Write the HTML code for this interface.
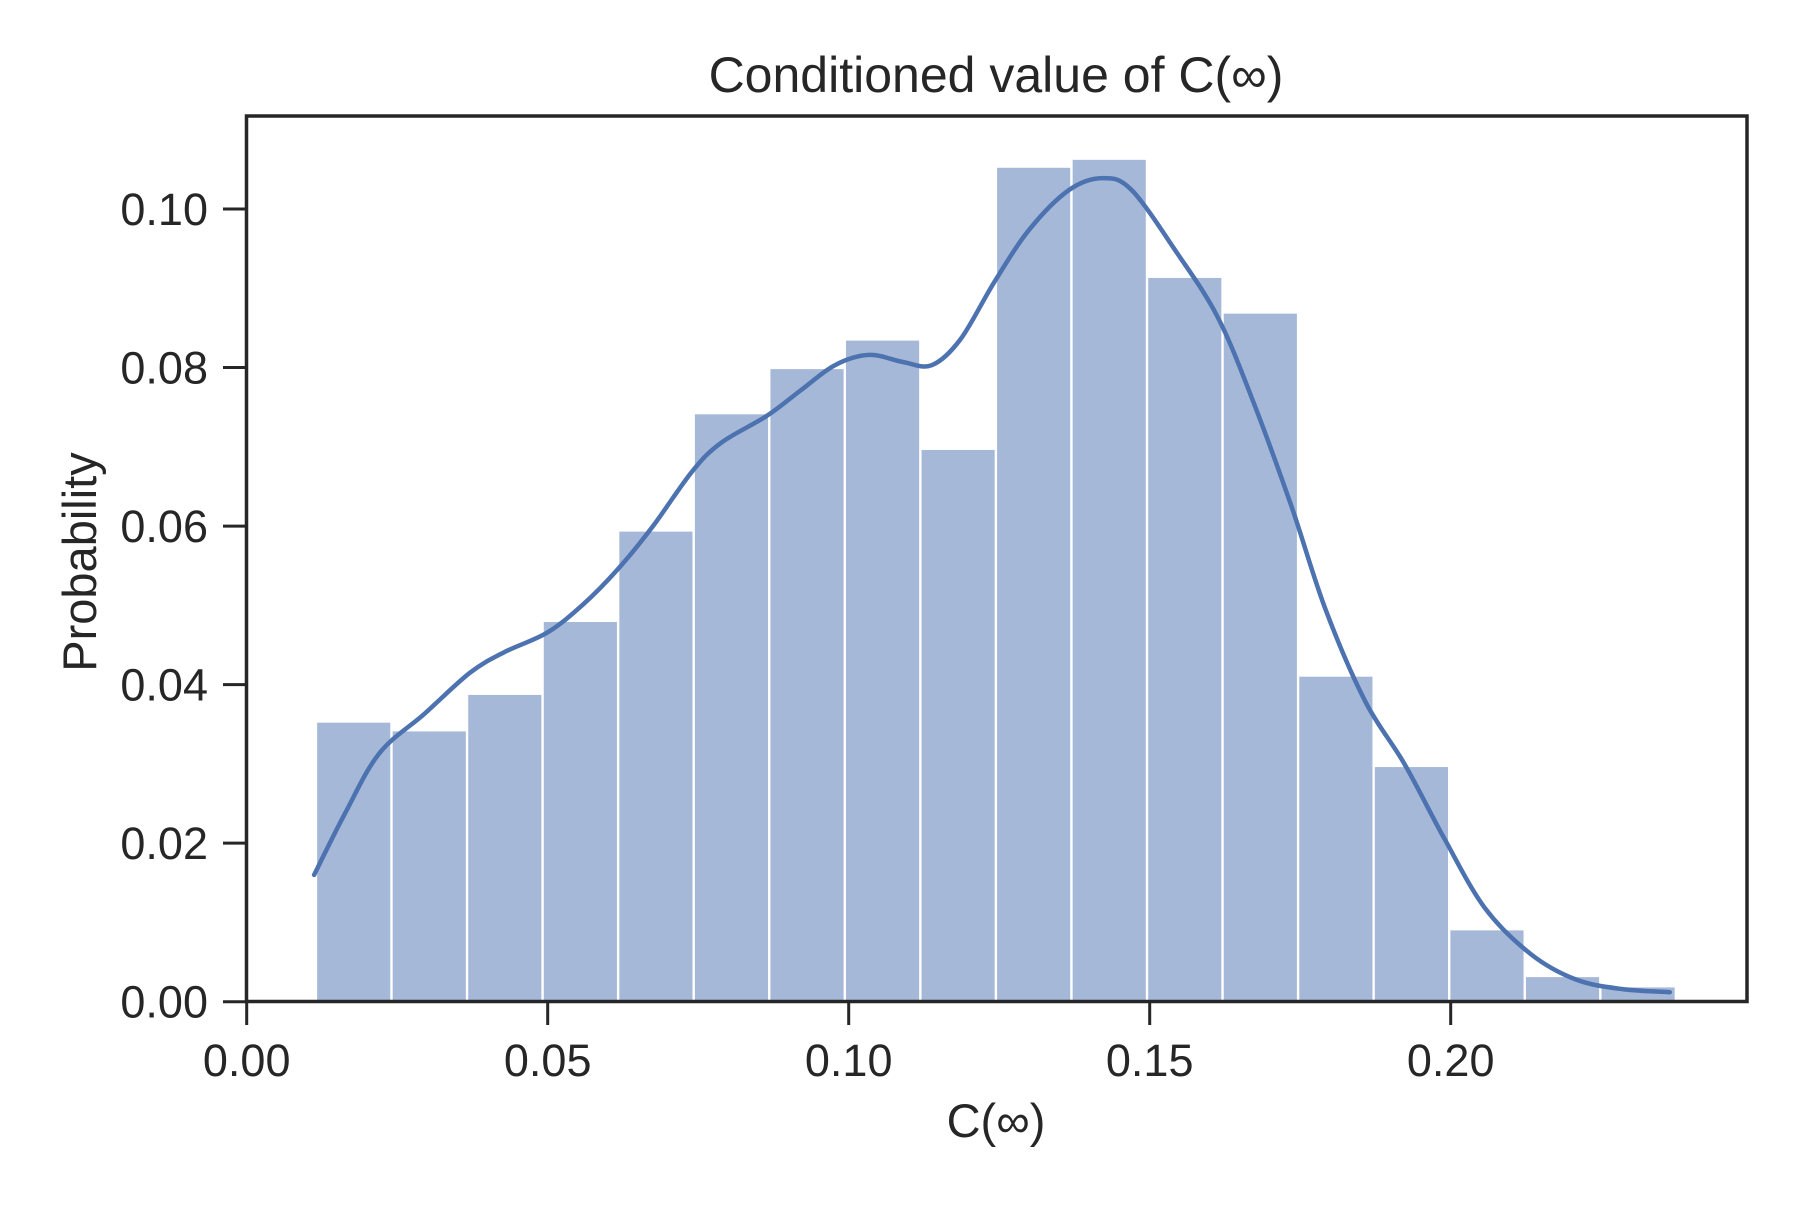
<!DOCTYPE html>
<html><head><meta charset="utf-8"><style>body{margin:0;background:#fff}svg text{font-family:"Liberation Sans",Arial,sans-serif;fill:#262626}</style></head>
<body>
<svg id="chart" width="1800" height="1200" xmlns="http://www.w3.org/2000/svg">
<g id="bars"></g>
<path id="kde" fill="none" stroke="#4c72b0" stroke-width="4.5" stroke-linejoin="round" stroke-linecap="round"/>
<rect x="246.5" y="116" width="1500.5" height="885.5" fill="none" stroke="#262626" stroke-width="3.5"/>
<g id="axes"></g>
<text x="996" y="92" font-size="50" text-anchor="middle">Conditioned value of C(∞)</text>
<text x="996" y="1137" font-size="47" text-anchor="middle">C(∞)</text>
<text transform="translate(96,562) rotate(-90)" font-size="47" text-anchor="middle">Probability</text>
</svg>
<script>
const binStart = 0.0115;
const binWidth = 0.01255;
const binValues = [0.0352,0.0341,0.0387,0.0479,0.0593,0.0741,0.0798,0.0834,0.0696,0.1052,0.1062,0.0913,0.0868,0.0410,0.0296,0.0090,0.0031,0.0018];
const kdeX = [0.0112,0.0163,0.022,0.0295,0.0371,0.0428,0.05,0.056,0.0617,0.0674,0.074,0.0788,0.0864,0.092,0.0977,0.1034,0.109,0.1138,0.1186,0.1242,0.13,0.1366,0.1422,0.147,0.1545,0.1612,0.1669,0.1735,0.1792,0.1858,0.1924,0.199,0.2057,0.2133,0.2208,0.2284,0.2364];
const kdeY = [0.016,0.0237,0.0313,0.0363,0.0415,0.0441,0.0466,0.0502,0.0546,0.0599,0.0669,0.0705,0.0739,0.0771,0.0803,0.0816,0.0807,0.0803,0.0836,0.0908,0.0974,0.1024,0.1039,0.1024,0.0945,0.0865,0.0763,0.0626,0.0495,0.0379,0.0299,0.0205,0.0118,0.006,0.0028,0.0016,0.0012];
const xTicks = [0,0.05,0.10,0.15,0.20];
const xTickLabels = ["0.00","0.05","0.10","0.15","0.20"];
const yTicks = [0,0.02,0.04,0.06,0.08,0.10];
const yTickLabels = ["0.00","0.02","0.04","0.06","0.08","0.10"];
const NS="http://www.w3.org/2000/svg";
const sx = v => 246.7 + v*6020;
const sy = v => 1001.7 - v*7927;
const bars=document.getElementById('bars');
binValues.forEach((v,i)=>{
  const r=document.createElementNS(NS,'rect');
  const x0=sx(binStart+i*binWidth), x1=sx(binStart+(i+1)*binWidth);
  r.setAttribute('x',x0+1.2);r.setAttribute('width',x1-x0-2.4);
  r.setAttribute('y',sy(v));r.setAttribute('height',sy(0)-sy(v));
  r.setAttribute('fill','#a6b8d8');
  
  
  bars.appendChild(r);
});
const pts=kdeX.map((x,i)=>[sx(x),sy(kdeY[i])]);
let d='M'+pts[0][0].toFixed(1)+','+pts[0][1].toFixed(1);
for(let i=0;i<pts.length-1;i++){
  const p0=pts[Math.max(0,i-1)],p1=pts[i],p2=pts[i+1],p3=pts[Math.min(pts.length-1,i+2)];
  const c1=[p1[0]+(p2[0]-p0[0])/6,p1[1]+(p2[1]-p0[1])/6];
  const c2=[p2[0]-(p3[0]-p1[0])/6,p2[1]-(p3[1]-p1[1])/6];
  d+='C'+c1.map(n=>n.toFixed(1)).join(',')+' '+c2.map(n=>n.toFixed(1)).join(',')+' '+p2.map(n=>n.toFixed(1)).join(',');
}
document.getElementById('kde').setAttribute('d',d);
const ax=document.getElementById('axes');
xTicks.forEach((t,i)=>{
  const l=document.createElementNS(NS,'line');
  l.setAttribute('x1',sx(t));l.setAttribute('x2',sx(t));l.setAttribute('y1',1001.7);l.setAttribute('y2',1025);
  l.setAttribute('stroke','#262626');l.setAttribute('stroke-width','3');
  
  
  ax.appendChild(l);
  const tx=document.createElementNS(NS,'text');
  tx.setAttribute('x',sx(t));tx.setAttribute('y',1076);tx.setAttribute('font-size','45');tx.setAttribute('text-anchor','middle');
  tx.textContent=xTickLabels[i];
  
  
  ax.appendChild(tx);
});
yTicks.forEach((t,i)=>{
  const l=document.createElementNS(NS,'line');
  l.setAttribute('x1',223);l.setAttribute('x2',246.7);l.setAttribute('y1',sy(t));l.setAttribute('y2',sy(t));
  l.setAttribute('stroke','#262626');l.setAttribute('stroke-width','3');
  
  
  ax.appendChild(l);
  const tx=document.createElementNS(NS,'text');
  tx.setAttribute('x',208);tx.setAttribute('y',sy(t)+16);tx.setAttribute('font-size','45');tx.setAttribute('text-anchor','end');
  tx.textContent=yTickLabels[i];
  
  
  ax.appendChild(tx);
});
</script>
</body></html>
